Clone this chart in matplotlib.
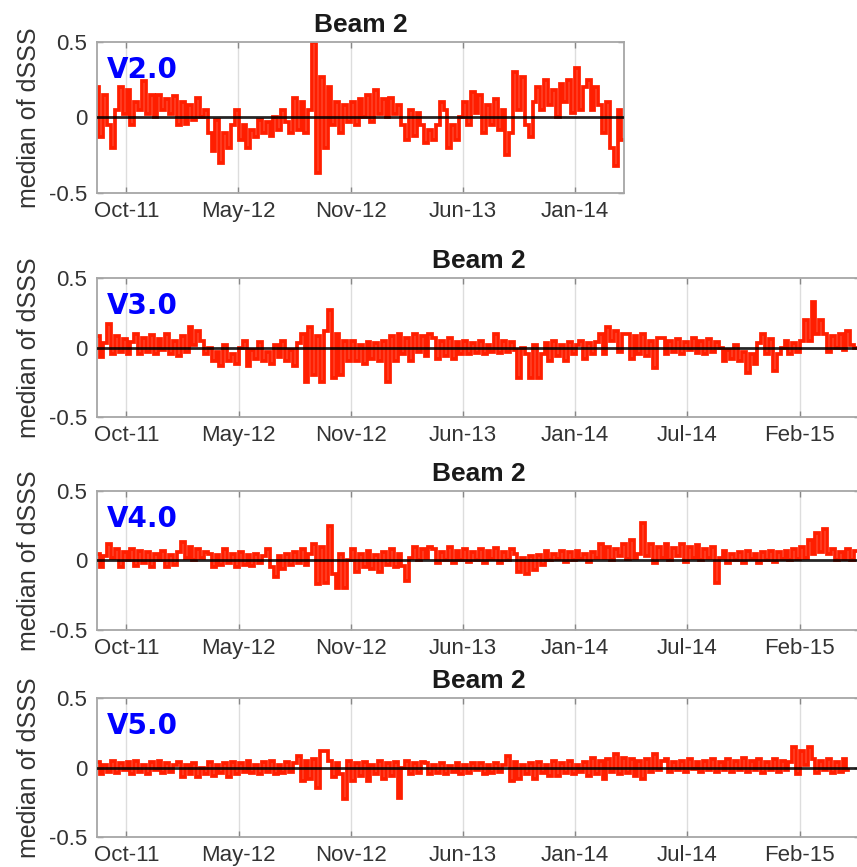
import numpy as np
import pandas as pd
import matplotlib
matplotlib.use('Agg')
import matplotlib.pyplot as plt
import matplotlib.dates as mdates

# weekly median of dSSS for beam 2, one array per product version
start_date = '2011-08-25'

v2 = [0.2, -0.13, 0.15, -0.05,
      -0.2, 0.05,
      0.2, 0.02, 0.18,
      -0.05, 0.1,
      0.05, 0.24, 0.02, 0.15,
      0.0, 0.15, 0.05, 0.12, 0.02, 0.14,
      -0.05, 0.1, -0.04, 0.08,
      -0.02, 0.13, 0.0,
      0.05, -0.1,
      -0.22, -0.02, -0.3,
      -0.1, -0.2, -0.05, 0.05,
      -0.15, -0.05, -0.2, -0.08,
      -0.13, -0.02, -0.1, -0.03, -0.12, 0.0,
      -0.08, 0.05, -0.03, -0.1,
      0.13, -0.08, 0.1, -0.1, 0.05,
      0.5, -0.37,
      0.27, -0.2, 0.2, -0.05,
      0.1, -0.1, 0.08, -0.03,
      0.1, -0.05, 0.12, 0.0, 0.15, -0.03, 0.18, 0.02, 0.12,
      0.0, 0.13, 0.02, 0.08,
      -0.05, -0.15, 0.05, -0.12, 0.03,
      -0.05, -0.17, -0.08, -0.15, -0.05,
      0.1,
      0.05, -0.2, -0.05, -0.15, 0.0,
      0.1, -0.05, 0.17, 0.03,
      0.15, -0.1, 0.08, -0.05, 0.12, -0.08, 0.05,
      -0.25, -0.1,
      0.3, 0.05,
      0.27, -0.05, -0.13, 0.1,
      0.2, 0.05, 0.25, 0.08, 0.18, 0.0, 0.22, 0.1, 0.25, 0.03,
      0.33, 0.05, 0.2,
      0.25, 0.05, 0.2, 0.08,
      -0.1, 0.1, -0.2,
      -0.32, 0.05,
      -0.15]

v3 = [0.08, -0.07, 0.03,
      0.17,
      -0.05, 0.08, -0.03, 0.06, -0.05, 0.04,
      0.1, -0.05, 0.07, -0.03, 0.09, -0.05, 0.06, -0.02, 0.1, -0.05, 0.05, -0.06, 0.08, -0.03,
      0.15, 0.02, 0.12,
      0.05, -0.05,
      0.0, -0.1, -0.03, -0.13, 0.02, -0.1, -0.05, -0.12, 0.0,
      0.05, -0.13, -0.02, -0.08, 0.04, -0.1, -0.03, -0.12, 0.02, -0.07, 0.05, -0.1, -0.02, -0.13, 0.03,
      0.1, -0.25, 0.15, -0.2, 0.08, -0.25, 0.12, 0.27, -0.22,
      0.1, -0.2, 0.05, -0.1,
      0.05, -0.1, 0.02, -0.12, 0.04, -0.08, 0.03, -0.1, 0.05, -0.25,
      0.08, -0.1, 0.1, -0.05, 0.07, -0.1, 0.1, -0.03, 0.08, -0.06, 0.1,
      0.07, -0.08, 0.05, -0.06, 0.07, -0.08, 0.04, -0.05,
      0.05, -0.05, 0.03, -0.04, 0.05, -0.05, 0.02, -0.03, 0.1, -0.04, 0.05, -0.03, 0.04, -0.02,
      -0.22, 0.0, -0.05, -0.22, 0.02, -0.22, -0.05,
      0.03, -0.1, 0.05, -0.06, 0.02, -0.1, 0.04, -0.05, 0.02,
      0.05, -0.08, 0.03, -0.05, 0.04,
      0.1, -0.05, 0.15, 0.05, 0.12, -0.03, 0.1,
      0.1, -0.08, 0.08, -0.05, 0.1, -0.06, 0.05, -0.15, 0.07,
      0.07, -0.05, 0.05, -0.03, 0.06, -0.05, 0.04, -0.02, 0.07, -0.04, 0.05, -0.05, 0.06, -0.03, 0.04,
      0.0, -0.1, -0.02, -0.08, 0.02, -0.1, -0.03,
      -0.18, -0.05, -0.12,
      0.03, 0.1, -0.05, 0.06,
      -0.17, -0.05, 0.0,
      0.05, -0.05, 0.03, -0.03, 0.05,
      0.2, 0.05, 0.33, 0.1, 0.2,
      0.1, -0.03, 0.08, 0.0, 0.1, -0.02, 0.12, 0.02,
      0.0, 0.03]

v4 = [0.05, -0.05, 0.03,
      0.12, 0.02,
      0.08, -0.05, 0.06, 0.0, 0.08, -0.04, 0.07, -0.02, 0.06, -0.05, 0.05, 0.0, 0.07, -0.05, 0.04, -0.03, 0.06, 0.13, 0.02,
      0.1, 0.0, 0.08, 0.02, 0.06,
      0.05, -0.05, 0.04, -0.03, 0.08, -0.02, 0.05, -0.05, 0.06, -0.03, 0.04, -0.04, 0.05, -0.02, 0.03,
      0.08, -0.05, -0.12, 0.03, -0.06, 0.05, -0.03, 0.06, -0.02,
      0.08, -0.03, 0.05,
      0.12, -0.17, 0.1, -0.16, 0.25, -0.1,
      -0.2, 0.05, -0.2, 0.0,
      0.08, -0.08, 0.05, -0.05, 0.07, -0.06, 0.04, -0.08, 0.06, -0.03, 0.08, -0.05, 0.05, -0.04,
      -0.15, 0.02,
      0.1, 0.0, 0.08, 0.02, 0.1,
      0.08, -0.02, 0.06, 0.0, 0.1, -0.02, 0.07, 0.0, 0.08, -0.01, 0.06, 0.0, 0.08, -0.02, 0.07, 0.01, 0.09, -0.02, 0.06, 0.0, 0.08,
      0.05, -0.08, 0.02, -0.1, 0.03, -0.07, 0.04, -0.03,
      0.07, 0.0, 0.05, 0.01, 0.07, -0.01, 0.06, 0.0, 0.07, 0.01, 0.05, -0.01, 0.06, 0.02,
      0.12, 0.02, 0.1, 0.0, 0.08, 0.03, 0.12, 0.01, 0.15, 0.02,
      0.05, 0.27, 0.03,
      0.12, -0.02, 0.1, 0.02, 0.12, 0.0, 0.09, 0.03, 0.12, -0.01, 0.1, 0.02, 0.11, 0.0, 0.08, 0.02, 0.1,
      -0.16, 0.02,
      0.07, -0.02, 0.05, 0.0, 0.06, -0.02, 0.07, 0.01, 0.05, -0.02, 0.06, 0.0, 0.07, -0.01, 0.06, 0.01, 0.07, 0.0, 0.08, 0.01, 0.1, 0.02,
      0.15, 0.05, 0.2, 0.06, 0.23, 0.05,
      0.08, 0.0, 0.06, 0.01, 0.08, 0.0, 0.07, 0.02, 0.08, 0.01]

v5 = [0.04, -0.05, 0.02, -0.03, 0.05, -0.04, 0.03, -0.02, 0.04, -0.05, 0.05, -0.03, 0.02, -0.05, 0.04, -0.02, 0.05, -0.04, 0.03, -0.03, 0.02,
      0.04, -0.07, 0.02, -0.05, 0.03, -0.07, 0.0, -0.05, 0.04, -0.06, 0.02, -0.04, 0.03, -0.07,
      0.04, -0.05, 0.03, -0.03, 0.05, -0.04, 0.02, -0.05, 0.04, -0.03, 0.05, -0.05, 0.02, -0.04, 0.04, -0.03, 0.03,
      0.08, -0.1, 0.05, -0.08, 0.06,
      -0.15, 0.12, 0.12,
      0.05, -0.07, 0.03, -0.05,
      -0.23,
      0.05, -0.1, 0.03, -0.06, 0.04, -0.1, 0.02, -0.05, 0.05, -0.08, 0.03, -0.06, 0.04,
      -0.22, 0.0,
      0.05, -0.05, 0.03, -0.04, 0.04,
      0.03, -0.05, 0.02, -0.04, 0.03, -0.05, 0.01, -0.03, 0.03, -0.05, 0.02, -0.04, 0.03, -0.02, 0.03, -0.05, 0.02, -0.04, 0.03, -0.03, 0.02,
      0.08, -0.1,
      0.04, -0.08, 0.02, -0.05, 0.03, -0.08, 0.04, -0.04, 0.02, -0.06,
      0.05, -0.06, 0.03, -0.04, 0.05, -0.05, 0.02, -0.03, 0.04, -0.06,
      0.07, -0.05, 0.05, -0.08, 0.06, -0.03, 0.1, -0.05, 0.07, -0.04, 0.06, -0.06, 0.05, -0.08,
      0.06, -0.03, 0.1, -0.02, 0.05,
      0.06, -0.03, 0.04, -0.02, 0.05, -0.03, 0.06, -0.01, 0.04, -0.03, 0.05, -0.02, 0.06, -0.03, 0.04, -0.02,
      0.06, -0.03, 0.05, -0.02, 0.07, -0.03, 0.05, -0.02, 0.06, -0.04, 0.04, -0.02, 0.06, -0.03, 0.05, -0.02, 0.04,
      0.15, -0.05, 0.12, 0.02, 0.15,
      0.06, -0.04, 0.05, -0.02, 0.06, -0.04, 0.04, -0.03, 0.06, -0.02]

versions = ['V2.0', 'V3.0', 'V4.0', 'V5.0']
series = [v2, v3, v4, v5]
x_ticks = ['2011-10-16', '2012-05-06', '2012-11-25', '2013-06-16',
           '2014-01-05', '2014-07-27', '2015-02-15']
x_start = '2011-08-24'
x_end = ['2014-04-04', '2015-06-04', '2015-06-04', '2015-06-04']
y_ticks = [-0.5, 0, 0.5]
y_ticklabels = ['-0.5', '0', '0.5']

# axes boxes in figure fractions: left, bottom, width, height
boxes = [[0.1132, 0.7774, 0.6149, 0.1742],
         [0.1132, 0.5190, 0.8903, 0.1603],
         [0.1132, 0.2734, 0.8903, 0.1603],
         [0.1132, 0.0346, 0.8903, 0.1603]]

plt.rcParams['font.family'] = 'Liberation Sans'
plt.rcParams['path.simplify'] = False
fig = plt.figure(figsize=(8.57, 8.67), dpi=100)

for i in range(4):
    ax = fig.add_axes(boxes[i])
    dates = pd.date_range(start_date, periods=len(series[i]), freq='7D')
    ax.plot(dates, series[i], color='#ff1e00', lw=2.7, drawstyle='steps-mid',
            solid_joinstyle='miter', zorder=2)
    ax.axhline(0, color='black', lw=2.0, alpha=0.85, zorder=3)

    ax.set_xticks(pd.to_datetime(x_ticks))
    ax.xaxis.set_major_formatter(mdates.DateFormatter('%b-%y'))
    # limits go after the ticks, otherwise set_xticks widens them
    ax.set_xlim(pd.Timestamp(x_start), pd.Timestamp(x_end[i]))
    ax.set_ylim(-0.5, 0.5)
    ax.set_yticks(y_ticks)
    ax.set_yticklabels(y_ticklabels)
    ax.grid(axis='x', color='#dddddd', lw=1.0)
    ax.set_axisbelow(True)

    ax.tick_params(direction='in', length=4, width=1, color='#888888',
                   labelsize=16, labelcolor='#333333', top=True, right=True)
    ax.tick_params(axis='x', pad=6)
    ax.tick_params(axis='y', pad=7)
    for sp in ax.spines.values():
        sp.set_color('#a6a6a6')
        sp.set_linewidth(1.3)

    ax.set_title('Beam 2', fontsize=19, fontweight='bold', color='#1a1a1a', pad=7)
    ax.set_ylabel('median of dSSS', fontsize=18, color='#333333', labelpad=6)
    ax.annotate(versions[i], xy=(0, 1), xycoords='axes fraction',
                xytext=(10, -14), textcoords='offset pixels',
                ha='left', va='top', fontsize=20, fontweight='bold',
                color='#0000ff', family='DejaVu Sans')

plt.savefig('out.png', dpi=100)
